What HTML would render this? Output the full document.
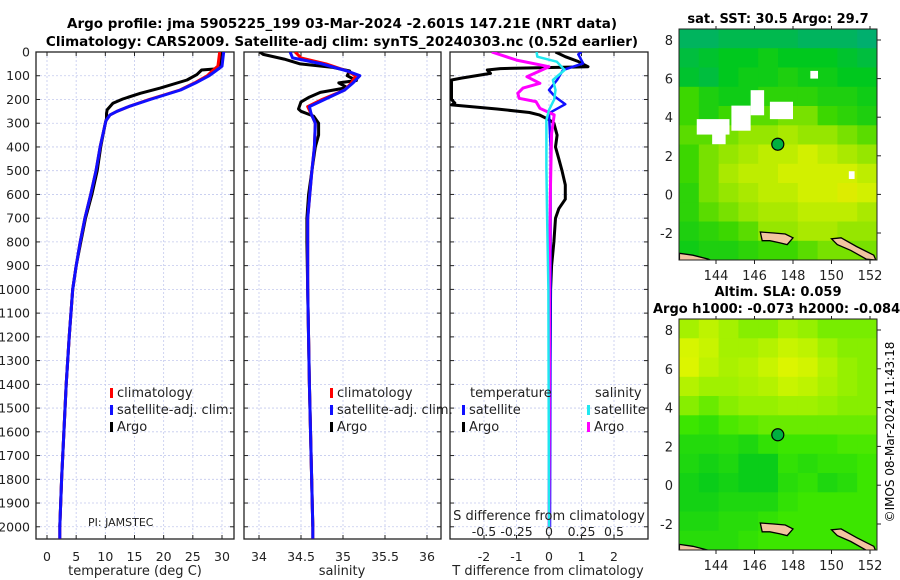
<!DOCTYPE html>
<html><head><meta charset="utf-8">
<style>
html,body{margin:0;padding:0;background:#fff;}
svg{display:block;font-family:"DejaVu Sans","Liberation Sans",sans-serif;}
</style></head>
<body>
<svg id="fig" width="900" height="580" viewBox="0 0 900 580" xmlns="http://www.w3.org/2000/svg">
<rect width="900" height="580" fill="#fff"/>
<text x="342" y="28" text-anchor="middle" font-size="13.5" font-weight="bold">Argo profile: jma 5905225_199 03-Mar-2024 -2.601S 147.21E (NRT data)</text>
<text x="342" y="46" text-anchor="middle" font-size="13.5" font-weight="bold">Climatology: CARS2009. Satellite-adj clim: synTS_20240303.nc (0.52d earlier)</text>
<text x="778" y="23" text-anchor="middle" font-size="13" font-weight="bold">sat. SST: 30.5 Argo: 29.7</text>
<text x="778" y="296" text-anchor="middle" font-size="13" font-weight="bold">Altim. SLA: 0.059</text>
<text x="653" y="313" font-size="13" font-weight="bold">Argo h1000: -0.073 h2000: -0.084</text>
<text transform="translate(894,432) rotate(-90)" text-anchor="middle" font-size="12">©IMOS 08-Mar-2024 11:43:18</text>
<g id="layer"></g>
</svg>
<script>
// ---------- data ----------
const depthTicks = [0,100,200,300,400,500,600,700,800,900,1000,1100,1200,1300,1400,1500,1600,1700,1800,1900,2000];
const tempTicks = [0,5,10,15,20,25,30];
const salTicks = [34,34.5,35,35.5,36];
const salTickLabels = ["34","34.5","35","35.5","36"];
const tdiffTicks = [-2,-1,0,1,2];
const sdiffTicks = [-0.5,-0.25,0,0.25,0.5];
const sdiffTickLabels = ["-0.5","-0.25","0","0.25","0.5"];

const climDepth = [0,60,80,100,130,160,200,230,250,265,290,400,500,600,700,800,900,1000,1200,1400,1600,1800,2000,2050];
const climTemp = [29.6,29.3,28.3,27.5,25.3,22.8,17.5,14,12,10.8,10.1,9.1,8.4,7.5,6.5,5.7,5.0,4.4,3.8,3.3,2.9,2.5,2.2,2.2];
const satTemp = [30.3,30.0,28.9,27.8,25.5,22.9,17.7,14,12,10.8,10.1,9.1,8.4,7.5,6.5,5.7,5.0,4.4,3.8,3.3,2.9,2.5,2.2,2.2];
const argoDepth = [0,20,50,70,76,95,118,152,174,198,216,244,260,280,300,400,500,600,700,800,900,1000,1200,1400,1600,1800,2000];
const argoTemp = [30.0,29.7,29.6,29.5,26.5,25.7,24.0,19.4,16.0,13.0,11.3,10.3,10.2,10.2,10.0,9.2,8.6,7.7,6.6,5.8,5.0,4.4,3.8,3.3,2.9,2.5,2.2];

const climSalDepth = [0,25,50,80,100,130,160,200,230,260,300,400,500,700,1000,1400,2000,2050];
const climSal = [34.43,34.5,34.8,35.05,35.15,35.1,35.02,34.75,34.58,34.62,34.67,34.66,34.63,34.58,34.58,34.6,34.64,34.64];
const satSal = [34.37,34.4,34.75,35.05,35.2,35.12,35.02,34.78,34.6,34.62,34.67,34.66,34.63,34.58,34.58,34.6,34.64,34.64];
const argoSalDepth = [0,10,30,50,65,80,100,120,130,150,170,190,210,240,250,270,300,350,400,500,600,700,800,1000,1400,2000];
const argoSal = [34.01,34.05,34.3,34.49,34.88,35.08,35.05,35.16,34.95,35.05,34.73,34.6,34.5,34.47,34.5,34.65,34.71,34.71,34.67,34.63,34.59,34.57,34.57,34.58,34.6,34.64];

const tdiffArgoDepth = [0,20,40,55,62,70,76,90,110,118,200,215,223,240,255,265,285,300,350,400,450,500,560,620,660,700,800,900,1000,1500,2000];
const tdiffArgo = [0.2,0.5,0.9,1.1,1.2,-1.5,-1.9,-1.8,-2.7,-3.0,-3.0,-2.9,-3.0,-1.6,-0.6,-0.3,0,0.15,0.25,0.2,0.3,0.4,0.5,0.5,0.3,0.2,0.15,0.08,0.05,0.02,0.01];
const tdiffSatDepth = [0,10,48,76,118,160,190,220,258,400,1000,2000];
const tdiffSat = [1.0,0.9,1.05,0.43,0.25,0,0.2,0.5,0,0.05,0.05,0.03];
const sdiffSatDepth = [0,20,41,76,118,160,200,244,287,483,665,1000,2000];
const sdiffSat = [-0.095,-0.09,0.06,0.12,0.03,0.05,0.04,0,-0.02,-0.02,-0.015,-0.005,0];
const sdiffArgoDepth = [0,34,62,104,132,152,174,195,209,237,265,343,600,1000,2000];
const sdiffArgo = [-0.44,-0.25,0,-0.17,-0.07,-0.2,-0.24,-0.23,-0.1,-0.07,0.04,0.02,0.01,0.005,0];

// SST map grid (rows north->south, cols west->east), deg C
const sstGrid = [
[28.8,28.8,28.9,28.9,28.9,28.9,28.8,28.8,28.8,28.7],
[29.0,29.1,29.2,29.2,29.3,29.2,29.2,29.2,29.1,29.0],
[29.1,29.0,29.2,29.3,29.3,29.4,29.3,29.3,29.2,29.2],
[29.6,29.4,29.3,29.3,29.5,29.5,29.5,29.4,29.4,29.3],
[29.6,29.4,29.6,29.7,29.7,29.8,29.8,29.6,29.5,29.4],
[29.7,29.7,29.8,29.9,29.9,30.0,29.9,29.9,29.8,29.7],
[29.6,29.8,29.9,30.0,30.1,30.1,30.2,30.1,30.0,29.9],
[29.6,29.8,30.0,30.1,30.1,30.2,30.2,30.2,30.2,30.1],
[29.5,29.8,29.9,30.0,30.1,30.1,30.2,30.2,30.3,30.2],
[29.5,29.7,29.8,29.9,30.0,30.0,30.1,30.1,30.1,30.0],
[29.4,29.5,29.6,29.7,29.9,29.9,30.0,30.0,29.9,29.9],
[29.3,29.4,29.4,29.5,29.6,29.6,29.7,29.8,29.8,29.8]
];
// SLA map grid, m
const slaGrid = [
[0.075,0.08,0.075,0.07,0.07,0.075,0.072,0.068,0.068,0.068],
[0.085,0.082,0.075,0.075,0.078,0.082,0.08,0.074,0.07,0.07],
[0.086,0.08,0.076,0.078,0.082,0.086,0.084,0.078,0.072,0.07],
[0.078,0.074,0.074,0.076,0.078,0.082,0.08,0.076,0.072,0.07],
[0.07,0.066,0.07,0.072,0.072,0.074,0.074,0.072,0.07,0.07],
[0.06,0.058,0.062,0.064,0.066,0.066,0.066,0.066,0.066,0.066],
[0.055,0.055,0.056,0.054,0.058,0.06,0.06,0.06,0.062,0.062],
[0.054,0.052,0.054,0.05,0.05,0.058,0.056,0.058,0.058,0.06],
[0.052,0.05,0.052,0.05,0.05,0.056,0.058,0.054,0.056,0.06],
[0.052,0.052,0.054,0.054,0.054,0.058,0.06,0.06,0.06,0.06],
[0.054,0.054,0.056,0.056,0.058,0.06,0.06,0.06,0.06,0.06],
[0.056,0.056,0.056,0.058,0.06,0.06,0.06,0.06,0.06,0.06]
];
const mapLonTicks = [144,146,148,150,152];
const mapLatTicks = [-2,0,2,4,6,8];
const argoLon = 147.21, argoLat = 2.6;
const sstMissing = [[144.8,4.6,145.8,3.3],[145.8,5.4,146.5,4.1],[146.8,4.8,148.0,3.9],[143.0,3.9,144.7,3.1],[148.9,6.4,149.3,6.0],[150.9,1.2,151.2,0.8],[143.8,3.3,144.5,2.6]];
const island1 = [[146.3,-1.95],[147.0,-2.0],[147.6,-2.05],[148.0,-2.25],[147.7,-2.6],[147.3,-2.5],[146.8,-2.4],[146.4,-2.4]];
const island2 = [[150.0,-2.3],[150.5,-2.25],[151.3,-2.7],[152.2,-3.15],[152.3,-3.4],[151.8,-3.35],[151.0,-2.9],[150.3,-2.6]];
const coast = [[142.1,-3.05],[142.8,-3.15],[143.6,-3.35],[143.8,-3.45],[142.1,-3.45]];

// ---------- helpers ----------
const NS = "http://www.w3.org/2000/svg";
const layer = document.getElementById('layer');
function mk(tag, attrs, parent){ const e=document.createElementNS(NS,tag); for(const k in attrs) e.setAttribute(k,attrs[k]); (parent||layer).appendChild(e); return e; }

const PY0=52, PY1=539, D0=0, D1=2051.5;
function yD(d){ return PY0 + (d-D0)/(D1-D0)*(PY1-PY0); }
const P1={x0:36,x1:234}, P2={x0:244,x1:441}, P3={x0:450,x1:648};
function xT(t){ return 47 + t*5.833; }
function xS(s){ return 259 + (s-34)*84; }
function xTd(t){ return 549 + t*32.5; }
function xSd(s){ return 549 + s*130; }

function panel(P, name, xticks, xfn){
  const g=mk('g',{});
  
  
  const cp=mk('clipPath',{id:'clip-'+name},g);
  mk('rect',{x:P.x0,y:PY0,width:P.x1-P.x0,height:PY1-PY0},cp);
  depthTicks.forEach(d=>{
    const l=mk('line',{x1:P.x0,x2:P.x1,y1:yD(d),y2:yD(d),stroke:'#c3c9ee','stroke-width':0.8,'stroke-dasharray':'2,2'},g);
    
    
    mk('line',{x1:P.x0,x2:P.x0+4,y1:yD(d),y2:yD(d),stroke:'#222','stroke-width':1},g);
    mk('line',{x1:P.x1-4,x2:P.x1,y1:yD(d),y2:yD(d),stroke:'#222','stroke-width':1},g);
  });
  xticks.forEach(v=>{
    const l=mk('line',{x1:xfn(v),x2:xfn(v),y1:PY0,y2:PY1,stroke:'#c3c9ee','stroke-width':0.8,'stroke-dasharray':'2,2'},g);
    
    
    mk('line',{x1:xfn(v),x2:xfn(v),y1:PY1,y2:PY1-4,stroke:'#222'},g);
    mk('line',{x1:xfn(v),x2:xfn(v),y1:PY0,y2:PY0+4,stroke:'#222'},g);
  });
  const b=mk('rect',{x:P.x0,y:PY0,width:P.x1-P.x0,height:PY1-PY0,fill:'none',stroke:'#222','stroke-width':1.3},g);
  
  
  return g;
}
function line(g, xs, ds, xfn, color, w, name, clipName){
  const pts = xs.map((v,i)=>xfn(v).toFixed(1)+','+yD(ds[i]).toFixed(1)).join(' ');
  const p=mk('polyline',{points:pts,fill:'none',stroke:color,'stroke-width':w,'stroke-linejoin':'round','clip-path':'url(#clip-'+clipName+')'},g);
  
  
  return p;
}
function txt(s,x,y,opt,parent){ const t=mk('text',Object.assign({x:x,y:y,'font-size':12.5,fill:'#222'},opt||{}),parent); t.textContent=s; return t; }

// ---------- panel 1: temperature ----------
const g1=panel(P1,'temperature-panel',tempTicks,xT);
line(g1,argoTemp,argoDepth,xT,'#000',3,'argo-temperature-line','temperature-panel');
line(g1,climTemp,climDepth,xT,'#f00',3,'climatology-temperature-line','temperature-panel');
line(g1,satTemp,climDepth,xT,'#1010ff',3,'satellite-temperature-line','temperature-panel');
depthTicks.forEach(d=>{ const t=txt(String(d),30,yD(d)+4.5,{'text-anchor':'end'});   });
tempTicks.forEach(v=>{ const t=txt(String(v),xT(v),561,{'text-anchor':'middle'});   });
txt('temperature (deg C)',135,575,{'text-anchor':'middle','font-size':13});
txt('PI: JAMSTEC',88,526,{'font-size':11});

function legend(x0, y0, items){
  items.forEach((it,i)=>{
    const y=y0+i*17;
    const m=mk('rect',{x:x0,y:y-8,width:3,height:10,fill:it[1]});
    
    
    const t=txt(it[0],x0+7,y+1,{'font-size':13});
    
    
  });
}
legend(110,396,[['climatology','#f00'],['satellite-adj. clim.','#1010ff'],['Argo','#000']]);

// ---------- panel 2: salinity ----------
const g2=panel(P2,'salinity-panel',salTicks,xS);
line(g2,argoSal,argoSalDepth,xS,'#000',3,'argo-salinity-line','salinity-panel');
line(g2,climSal,climSalDepth,xS,'#f00',3,'climatology-salinity-line','salinity-panel');
line(g2,satSal,climSalDepth,xS,'#1010ff',3,'satellite-salinity-line','salinity-panel');
salTicks.forEach((v,i)=>{ const t=txt(salTickLabels[i],xS(v),561,{'text-anchor':'middle'});   });
txt('salinity',342,575,{'text-anchor':'middle','font-size':13});
legend(330,396,[['climatology','#f00'],['satellite-adj. clim.','#1010ff'],['Argo','#000']]);

// ---------- panel 3: differences ----------
const g3=panel(P3,'difference-panel',tdiffTicks,xTd);
line(g3,tdiffArgo,tdiffArgoDepth,xTd,'#000',3,'argo-temperature-difference-line','difference-panel');
line(g3,tdiffSat,tdiffSatDepth,xTd,'#1010ff',2.5,'satellite-temperature-difference-line','difference-panel');
line(g3,sdiffArgo,sdiffArgoDepth,xSd,'#ff00ff',3,'argo-salinity-difference-line','difference-panel');
line(g3,sdiffSat,sdiffSatDepth,xSd,'#20e8f0',2.5,'satellite-salinity-difference-line','difference-panel');
tdiffTicks.forEach(v=>{ const t=txt(String(v),xTd(v),561,{'text-anchor':'middle'});   });
sdiffTicks.forEach((v,i)=>{ const t=txt(sdiffTickLabels[i],xSd(v),536,{'text-anchor':'middle','font-size':12.5});   });
txt('S difference from climatology',549,520,{'text-anchor':'middle','font-size':13});
txt('T difference from climatology',548,575,{'text-anchor':'middle','font-size':13});
txt('temperature',470,397,{'font-size':13});
txt('salinity',595,397,{'font-size':13});
legend(462,413,[['satellite','#1010ff'],['Argo','#000']]);
legend(587,413,[['satellite','#20e8f0'],['Argo','#ff00ff']]);

// ---------- maps ----------
function lerpCol(stops, v){
  if(v<=stops[0][0]) return 'rgb('+stops[0][1].join(',')+')';
  for(let i=1;i<stops.length;i++){ if(v<=stops[i][0]){ const a=stops[i-1],b=stops[i],f=(v-a[0])/(b[0]-a[0]); return 'rgb('+[0,1,2].map(k=>Math.round(a[1][k]+(b[1][k]-a[1][k])*f)).join(',')+')'; } }
  return 'rgb('+stops[stops.length-1][1].join(',')+')';
}
const sstStops=[[28.7,[0,175,110]],[29.2,[0,200,30]],[29.6,[60,215,0]],[29.9,[150,230,0]],[30.2,[210,240,0]],[30.6,[255,225,0]]];
const slaStops=[[0.048,[0,200,30]],[0.06,[60,230,0]],[0.072,[150,240,0]],[0.086,[220,245,0]]];

function drawMap(name, y0, y1, yLat8, yLatM2, grid, stops, missing){
  const X0=679,X1=877;
  const lonX = lon => 716 + (lon-144)*19.25;
  const latPx = (yLatM2 - yLat8) / 10;
  const latY = lat => yLat8 + (8-lat)*latPx;
  const g=mk('g',{});
  
  
  const cp=mk('clipPath',{id:'clip-'+name},g);
  mk('rect',{x:X0,y:y0,width:X1-X0,height:y1-y0},cp);
  const cg=mk('g',{'clip-path':'url(#clip-'+name+')'},g);
  const rows=grid.length, cols=grid[0].length;
  const latN = 8 + (yLat8 - y0)/latPx, latS = 8 - (y1-yLat8)/latPx;
  const lonW = 144 - (716-X0)/19.25, lonE = 144 + (X1-716)/19.25;
  for(let r=0;r<rows;r++) for(let c=0;c<cols;c++){
    const la0 = latN - (latN-latS)*r/rows, la1 = latN - (latN-latS)*(r+1)/rows;
    const lo0 = lonW + (lonE-lonW)*c/cols, lo1 = lonW + (lonE-lonW)*(c+1)/cols;
    const cell=mk('rect',{x:lonX(lo0).toFixed(1),y:latY(la0).toFixed(1),width:(lonX(lo1)-lonX(lo0)+0.6).toFixed(1),height:(latY(la1)-latY(la0)+0.6).toFixed(1),fill:lerpCol(stops,grid[r][c])},cg);
    
    
  }
  (missing||[]).forEach(m=>{
    const w=mk('rect',{x:lonX(m[0]),y:latY(m[1]),width:lonX(m[2])-lonX(m[0]),height:latY(m[3])-latY(m[1]),fill:'#fff'},cg);
    
    
  });
  [[island1,'island'],[island2,'island'],[coast,'coastline']].forEach(a=>{
    const p=mk('polygon',{points:a[0].map(q=>lonX(q[0]).toFixed(1)+','+latY(q[1]).toFixed(1)).join(' '),fill:'#f2c4a0',stroke:'#000','stroke-width':1.3},cg);
    
    
  });
  const mkr=mk('circle',{cx:lonX(argoLon),cy:latY(argoLat),r:6,fill:'#00b040',stroke:'#000','stroke-width':1.2},cg);
  
  
  const fr=mk('rect',{x:X0,y:y0,width:X1-X0,height:y1-y0,fill:'none',stroke:'#222','stroke-width':1},g);
  
  
  mapLatTicks.forEach(v=>{
    const y=latY(v);
    mk('line',{x1:X1,x2:X1+4,y1:y,y2:y,stroke:'#222'},g);
    const t=txt(String(v),673,y+5,{'text-anchor':'end','font-size':13},g);
    
    
  });
  mapLonTicks.forEach(v=>{
    const x=lonX(v);
    mk('line',{x1:x,x2:x,y1:y1,y2:y1+4,stroke:'#222'},g);
    mk('line',{x1:x,x2:x,y1:y0,y2:y0-3,stroke:'#222'},g);
    const t=txt(String(v),x,y1+20,{'text-anchor':'middle','font-size':13},g);
    
    
  });
}
drawMap('sst-map',29,260,40,233,sstGrid,sstStops,sstMissing);
drawMap('sla-map',319,550,330,524,slaGrid,slaStops,[]);
</script>
</body></html>
